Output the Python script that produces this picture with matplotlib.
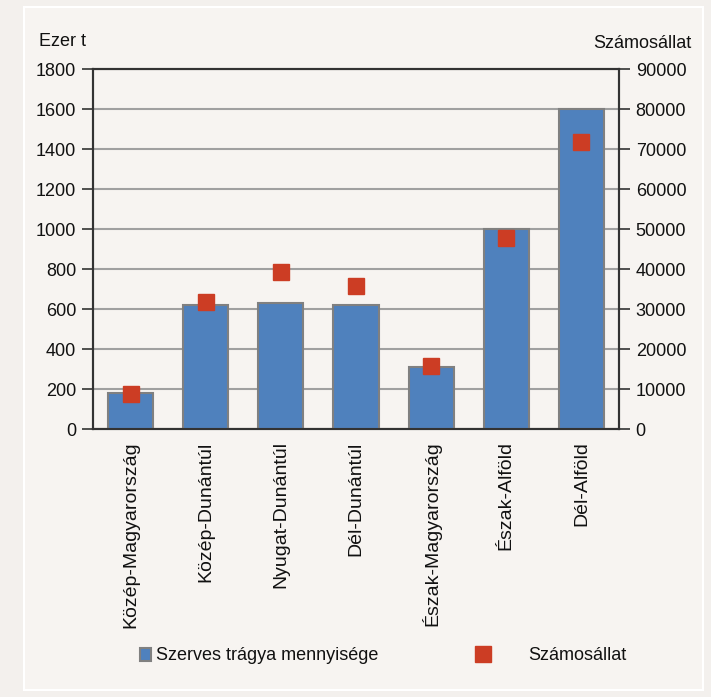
import matplotlib.pyplot as plt
import matplotlib.patches as mpatches
from matplotlib.lines import Line2D
import numpy as np

regions = ["Közép-Magyarország", "Közép-Dunántúl", "Nyugat-Dunántúl", "Dél-Dunántúl",
           "Észak-Magyarország", "Észak-Alföld", "Dél-Alföld"]
manure = [180, 620, 630, 620, 310, 1000, 1600]          # ezer t
livestock = [8700, 31700, 39200, 35800, 15700, 47700, 71700]  # számosállat

plt.rcParams['font.family'] = ['Liberation Sans', 'DejaVu Sans']
plt.rcParams['font.size'] = 13
plt.rcParams['text.color'] = '#111111'
plt.rcParams['xtick.color'] = '#111111'
plt.rcParams['ytick.color'] = '#111111'

bg = '#f7f4f1'
fig = plt.figure(figsize=(7.11, 6.97), dpi=100, facecolor='#f3f0ed')
fig.patches.append(mpatches.Rectangle((24 / 711, 1 - 690 / 697), (703 - 24) / 711, (690 - 7) / 697,
                                      transform=fig.transFigure, facecolor=bg,
                                      edgecolor='#ffffff', lw=1.5, zorder=-10))

ax = fig.add_axes([93 / 711, 1 - 429 / 697, (619 - 93) / 711, (429 - 69) / 697])
ax.set_facecolor(bg)
x = np.arange(len(regions))
ax.bar(x, manure, width=0.6, color='#4f81bd', edgecolor='#808080', lw=1.5, zorder=3)
ax.set_ylim(0, 1800)
ax.set_xlim(-0.5, len(regions) - 0.5)
ax.set_yticks(np.arange(0, 1801, 200))
ax.yaxis.grid(True, color='#a0a0a0', lw=1.5, zorder=0)
ax.set_axisbelow(True)
ax.set_xticks(x)
ax.set_xticklabels(regions, rotation=90, fontsize=14)
ax.tick_params(axis='x', length=0, pad=9)
ax.tick_params(axis='y', length=8, width=1.2, color='#333333', pad=4)
for s in ax.spines.values():
    s.set_color('#333333')
    s.set_linewidth(1.5)

ax2 = ax.twinx()
ax2.plot(x, livestock, 's', color='#cc3d24', ms=11.5, zorder=4)
ax2.set_ylim(0, 90000)
ax2.set_yticks(np.arange(0, 90001, 10000))
ax2.tick_params(axis='y', length=8, width=1.2, color='#333333', pad=4)
for s in ax2.spines.values():
    s.set_color('#333333')
    s.set_linewidth(1.5)

fig.text(39 / 711, 1 - 42 / 697, "Ezer t", ha='left', va='center')
fig.text(691 / 711, 1 - 43 / 697, "Számosállat", ha='right', va='center')

leg_y = 1 - 656 / 697
fig.legend([mpatches.Patch(facecolor='#4f81bd', edgecolor='#808080', lw=1.5)],
           ["Szerves trágya mennyisége"], loc='center left',
           bbox_to_anchor=(140 / 711, leg_y), frameon=False, borderpad=0,
           borderaxespad=0, handlelength=0.6, handleheight=0.7, handletextpad=0.3)
fig.legend([Line2D([], [], marker='s', ls='', color='#cc3d24', ms=11.5)],
           ["Számosállat"], loc='center left',
           bbox_to_anchor=(447 / 711, leg_y), frameon=False, borderpad=0,
           borderaxespad=0, handlelength=4, handletextpad=0.5)

fig.savefig("out.png", dpi=100, facecolor=fig.get_facecolor())
